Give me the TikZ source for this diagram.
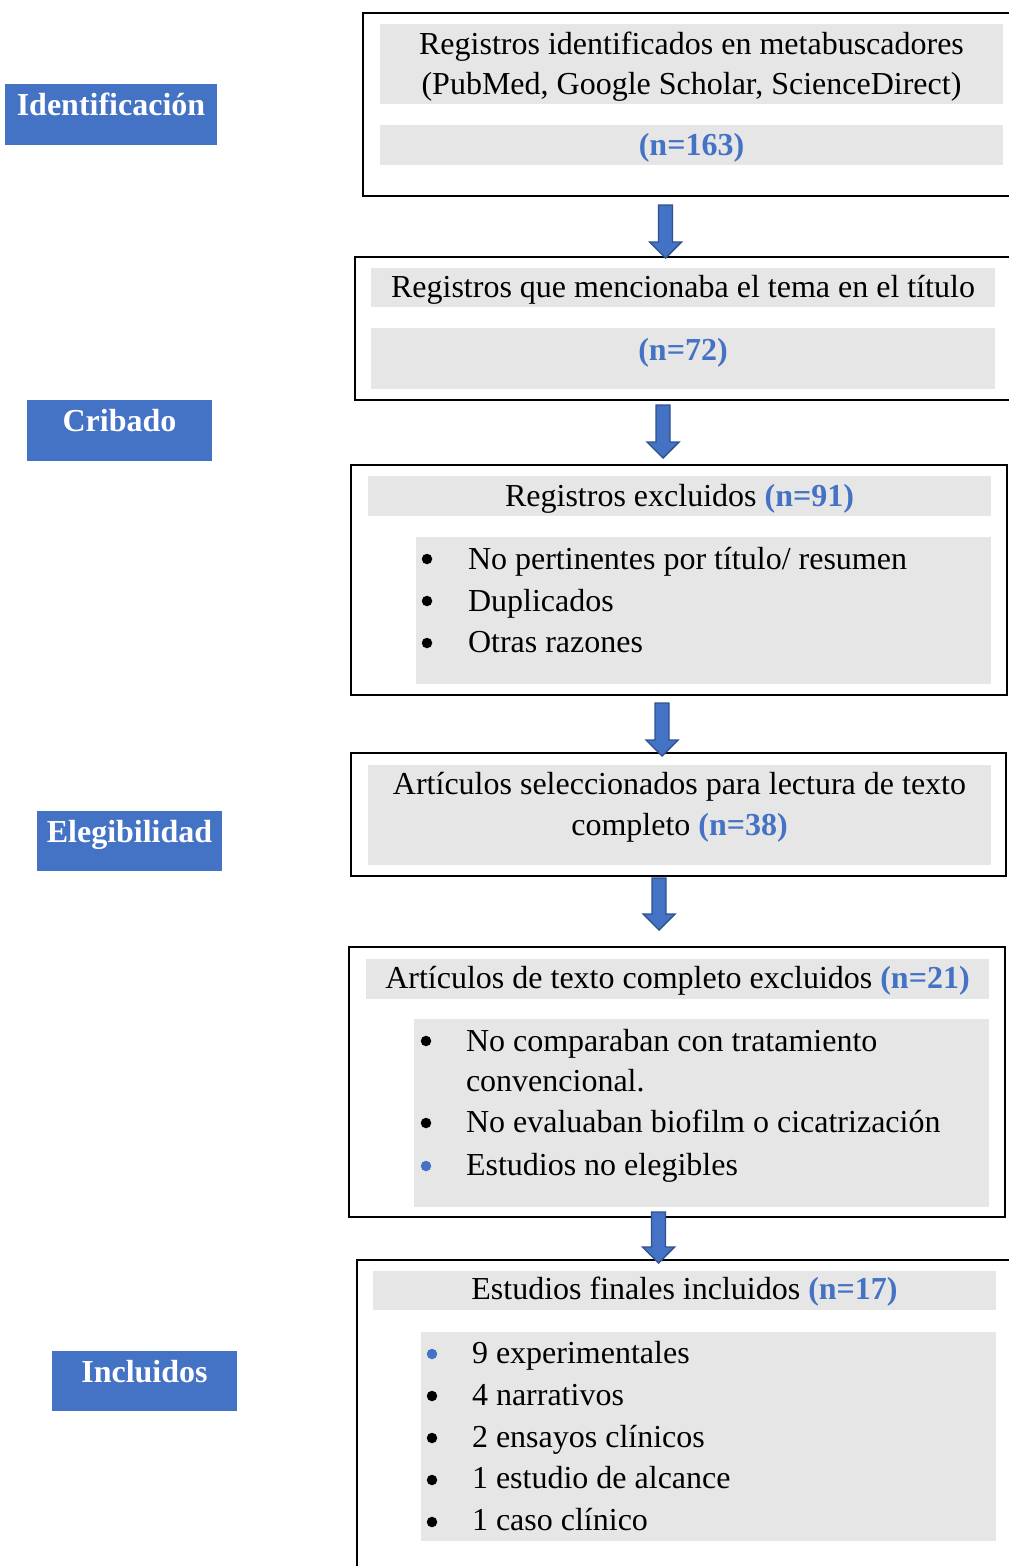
\documentclass[tikz,border=0pt]{standalone}
\usepackage{fontspec}
\setmainfont{Liberation Serif}
\usetikzlibrary{calc}
\definecolor{nblue}{HTML}{4472C4}
\definecolor{bandgray}{HTML}{E7E6E6}
\definecolor{arrborder}{HTML}{2F528F}
\newcommand\nb[1]{{\bfseries\color{nblue}#1}}
\newcommand\fatarr[2]{\draw[fatarrow] ($(#1)+(-7,0)$) -- ($(#1)+(7,0)$) -- ($(#2)+(7,-16)$) -- ($(#2)+(16,-16)$) -- (#2) -- ($(#2)+(-16,-16)$) -- ($(#2)+(-7,-16)$) -- cycle;}
\begin{document}
\begin{tikzpicture}[x=1pt,y=-1pt,
  every node/.style={font=\fontsize{32}{40}\selectfont, inner sep=0pt, outer sep=0pt},
  outerbox/.style={draw=black, line width=2pt, anchor=north west, rectangle},
  band/.style={fill=bandgray, anchor=north west, rectangle},
  labbox/.style={fill=nblue, anchor=north west, rectangle},
  labtext/.style={text=white, font=\fontsize{32}{40}\selectfont\bfseries, anchor=base},
  txt/.style={anchor=base},
  itm/.style={anchor=base west},
  bul/.style={circle, fill=black, minimum size=10.5pt},
  bulb/.style={bul, fill=nblue},
  fatarrow/.style={fill=nblue, draw=arrborder, line width=1.4pt, line join=miter}]
\clip (0,0) rectangle (1009,1566);
\fill[white] (0,0) rectangle (1009,1566);

% left stage labels
\node[labbox, minimum width=212pt, minimum height=61pt] (L1) at (5,84) {};
\node[labtext] (L1t) at ([yshift=-31pt]L1.north) {Identificación};
\node[labbox, minimum width=185pt, minimum height=61pt] (L2) at (27,400) {};
\node[labtext] (L2t) at ([yshift=-31pt]L2.north) {Cribado};
\node[labbox, minimum width=185pt, minimum height=60pt] (L3) at (37,811) {};
\node[labtext] (L3t) at ([yshift=-31pt]L3.north) {Elegibilidad};
\node[labbox, minimum width=185pt, minimum height=60pt] (L4) at (52,1351) {};
\node[labtext] (L4t) at ([yshift=-31pt]L4.north) {Incluidos};

% box 1
\node[outerbox, minimum width=667pt, minimum height=183pt] (b1) at (363,13) {};
\node[band, minimum width=623pt, minimum height=80pt] (g1a) at (380,24) {};
\node[band, minimum width=623pt, minimum height=40pt] (g1b) at (380,125) {};
\node[txt] (t1a) at (691.5,54) {Registros identificados en metabuscadores};
\node[txt] (t1b) at (691.5,94) {(PubMed, Google Scholar, ScienceDirect)};
\node[txt] (t1c) at (691.5,155) {\nb{(n=163)}};

% box 2
\node[outerbox, minimum width=675pt, minimum height=143pt] (b2) at (355,257) {};
\node[band, minimum width=624pt, minimum height=39pt] (g2a) at (371,268) {};
\node[band, minimum width=624pt, minimum height=61pt] (g2b) at (371,328) {};
\node[txt] (t2a) at (683,297) {Registros que mencionaba el tema en el título};
\node[txt] (t2b) at (683,360) {\nb{(n=72)}};

% box 3
\node[outerbox, minimum width=656pt, minimum height=230pt] (b3) at (351,465) {};
\node[band, minimum width=623pt, minimum height=40pt] (g3a) at (368,476) {};
\node[band, minimum width=575pt, minimum height=147pt] (g3b) at (416,537) {};
\node[txt] (t3a) at (679.5,506) {Registros excluidos \nb{(n=91)}};
\node[bul] (p31) at (427,559) {};
\node[itm] (t31) at (468,569) {No pertinentes por título/ resumen};
\node[bul] (p32) at (427,601) {};
\node[itm] (t32) at (468,611) {Duplicados};
\node[bul] (p33) at (427,643) {};
\node[itm] (t33) at (468,652) {Otras razones};

% box 4
\node[outerbox, minimum width=655pt, minimum height=123pt] (b4) at (351,753) {};
\node[band, minimum width=623pt, minimum height=100pt] (g4) at (368,765) {};
\node[txt] (t4a) at (679.5,794) {Artículos seleccionados para lectura de texto};
\node[txt] (t4b) at (679.5,835) {completo \nb{(n=38)}};

% box 5
\node[outerbox, minimum width=656pt, minimum height=270pt] (b5) at (349,947) {};
\node[band, minimum width=623pt, minimum height=40pt] (g5a) at (366,959) {};
\node[band, minimum width=575pt, minimum height=188pt] (g5b) at (414,1019) {};
\node[txt] (t5a) at (677.5,988) {Artículos de texto completo excluidos \nb{(n=21)}};
\node[bul] (p51) at (426,1041) {};
\node[itm] (t51) at (466,1051) {No comparaban con tratamiento};
\node[itm] (t51b) at (466,1091) {convencional.};
\node[bul] (p52) at (426,1123) {};
\node[itm] (t52) at (466,1132) {No evaluaban biofilm o cicatrización};
\node[bulb] (p53) at (426,1166) {};
\node[itm] (t53) at (466,1175) {Estudios no elegibles};

% box 6
\node[outerbox, minimum width=673pt, minimum height=340pt] (b6) at (357,1260) {};
\node[band, minimum width=623pt, minimum height=39pt] (g6a) at (373,1271) {};
\node[band, minimum width=575pt, minimum height=209pt] (g6b) at (421,1332) {};
\node[txt] (t6a) at (684.5,1299) {Estudios finales incluidos \nb{(n=17)}};
\node[bulb] (p61) at (432,1354) {};
\node[itm] (t61) at (472,1363) {9 experimentales};
\node[bul] (p62) at (432,1396) {};
\node[itm] (t62) at (472,1405) {4 narrativos};
\node[bul] (p63) at (432,1438) {};
\node[itm] (t63) at (472,1447) {2 ensayos clínicos};
\node[bul] (p64) at (432,1480) {};
\node[itm] (t64) at (472,1488) {1 estudio de alcance};
\node[bul] (p65) at (432,1522) {};
\node[itm] (t65) at (472,1530) {1 caso clínico};

% arrows
\coordinate (a1s) at (665.5,205);  \coordinate (a1e) at (665.5,258);
\coordinate (a2s) at (663,405);    \coordinate (a2e) at (663,458);
\coordinate (a3s) at (662,703);    \coordinate (a3e) at (662,756);
\coordinate (a4s) at (659,878);    \coordinate (a4e) at (659,930);
\coordinate (a5s) at (658.5,1212); \coordinate (a5e) at (658.5,1263);
\fatarr{a1s}{a1e}
\fatarr{a2s}{a2e}
\fatarr{a3s}{a3e}
\fatarr{a4s}{a4e}
\fatarr{a5s}{a5e}
\end{tikzpicture}
\end{document}
